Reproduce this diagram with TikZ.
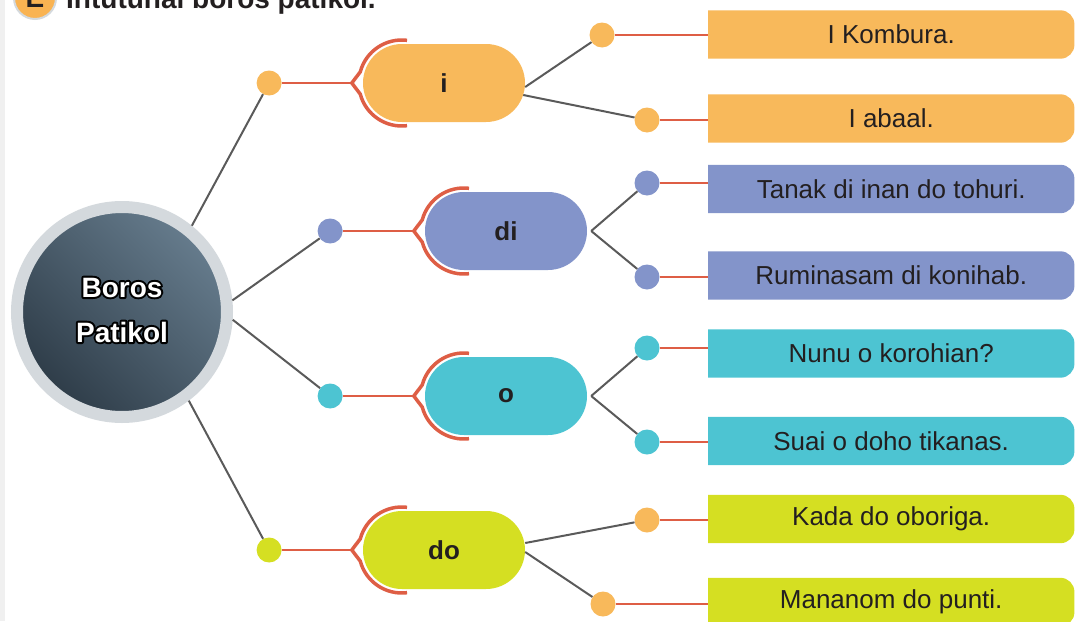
\documentclass[tikz,border=0pt]{standalone}
\usepackage{fontspec}
\setmainfont{Liberation Sans}
\usetikzlibrary{positioning,calc,backgrounds}
\definecolor{ora}{HTML}{F8B95B}
\definecolor{blu}{HTML}{8394CA}
\definecolor{tea}{HTML}{4DC4D2}
\definecolor{lim}{HTML}{D5DF22}
\definecolor{redl}{HTML}{DE5E45}
\definecolor{gry}{HTML}{5A5A5A}
\definecolor{txt}{HTML}{231F20}
\definecolor{ring}{HTML}{D4D9DD}
\definecolor{hubhi}{HTML}{667C8D}
\definecolor{hublo}{HTML}{2E3C48}
\newcommand\pillbracket[1]{%
  \draw[bracket] ($(#1.west)+(39,0)+(277:43)$) arc[start angle=277,end angle=195,radius=43]
    -- ([xshift=-11pt]#1.west) -- ($(#1.west)+(39,0)+(165:43)$) arc[start angle=165,end angle=83,radius=43];}
\newcommand\stroked[1]{\special{pdf:literal direct 1 Tr 4 w 1 j 0 0 0 RG}#1\special{pdf:literal direct 0 Tr}}

\begin{document}
\begin{tikzpicture}[x=1pt,y=-1pt,
  hub/.style={circle,minimum size=210pt,draw=ring,line width=12pt,top color=hubhi,bottom color=hublo,shading angle=-45},
  hubtxt/.style={align=center,text=white,font=\fontsize{28}{45}\selectfont\bfseries},
  pill/.style={rectangle,rounded corners=39pt,minimum width=162pt,minimum height=78pt,text=txt,font=\fontsize{26}{30}\selectfont\bfseries},
  dot/.style={circle,minimum size=25pt,inner sep=0pt},
  box/.style={rectangle,anchor=west,minimum width=366pt,minimum height=48pt,text=txt,font=\fontsize{26}{30}\selectfont},
  link/.style={draw=gry,line width=2pt},
  tie/.style={draw=redl,line width=2.5pt},
  bracket/.style={draw=redl,line width=3.5pt,line join=miter}]
\useasboundingbox (0,0) rectangle (1075,621);
\clip (0,0) rectangle (1075,621);
\fill[black!6] (0,0) rectangle (5,621);

\node[circle,minimum size=42pt,inner sep=0pt,draw=ring,line width=2pt,fill=ora!90!orange,text=txt,font=\fontsize{28}{30}\selectfont\bfseries] (e) at (35,-2) {E};
\node[anchor=base west,inner sep=0pt,text=txt,font=\fontsize{28}{34}\selectfont\bfseries] (t) at (66,9) {Intutunai boros patikol.};

\node[hub] (h) at (122,312) {};
\node[hubtxt] (hs) at ($(h)+(0,-2)$) {\stroked{Boros}\\\stroked{Patikol}};
\node[hubtxt] (ht) at ($(h)+(0,-2)$) {Boros\\Patikol};

\node[pill,fill=ora] (p1) at (444,83) {i};
\node[pill,fill=blu] (p2) at (506,231) {di};
\node[pill,fill=tea] (p3) at (506,396) {o};
\node[pill,fill=lim] (p4) at (444,550) {do};

\node[dot,fill=ora] (l1) [left=81pt of p1] {};
\node[dot,fill=blu] (l2) [left=82pt of p2] {};
\node[dot,fill=tea] (l3) [left=82pt of p3] {};
\node[dot,fill=lim] (l4) [left=81pt of p4] {};

\node[dot,fill=ora] (r11) at (602,35) {};
\node[dot,fill=ora] (r12) at (647,120) {};
\node[dot,fill=blu] (r21) at (647,183) {};
\node[dot,fill=blu] (r22) at (647,277) {};
\node[dot,fill=tea] (r31) at (647,348) {};
\node[dot,fill=tea] (r32) at (647,442) {};
\node[dot,fill=ora] (r41) at (647,520) {};
\node[dot,fill=ora] (r42) at (603,604) {};

\node[box] (b11) at (708,34.5) {I Kombura.};
\node[box] (b12) at (708,118.5) {I abaal.};
\node[box] (b21) at (708,189) {Tanak di inan do tohuri.};
\node[box] (b22) at (708,275.5) {Ruminasam di konihab.};
\node[box] (b31) at (708,353.5) {Nunu o korohian?};
\node[box] (b32) at (708,441) {Suai o doho tikanas.};
\node[box] (b41) at (708,519) {Kada do oboriga.};
\node[box] (b42) at (708,602) {Mananom do punti.};

\begin{scope}[on background layer]
\foreach \n/\c in {11/ora,12/ora,21/blu,22/blu,31/tea,32/tea,41/lim,42/lim}
  \fill[\c] (b\n.south west) [rounded corners=14pt] -- (b\n.south east) -- (b\n.north east) [sharp corners] -- (b\n.north west) -- cycle;
\end{scope}

\path[link] (h.51) edge (l1) (h.6) edge (l2) (h.-4) edge (l3) (h.-53) edge (l4);
\path[link] ([yshift=-4pt]p1.east) edge (r11) ([xshift=-2pt,yshift=-12pt]p1.east) edge (r12)
  ([xshift=4pt]p2.east) edge (r21) ([xshift=4pt]p2.east) edge (r22)
  ([xshift=4pt]p3.east) edge (r31) ([xshift=4pt]p3.east) edge (r32)
  ([yshift=7pt]p4.east) edge (r41) ([yshift=-2pt]p4.east) edge (r42);

\path[tie] (l1) edge ([xshift=-11pt]p1.west) (l2) edge ([xshift=-11pt]p2.west)
  (l3) edge ([xshift=-11pt]p3.west) (l4) edge ([xshift=-11pt]p4.west);
\path[tie] (r11) edge (r11 -| b11.west) (r12) edge (r12 -| b12.west)
  (r21) edge (r21 -| b21.west) (r22) edge (r22 -| b22.west)
  (r31) edge (r31 -| b31.west) (r32) edge (r32 -| b32.west)
  (r41) edge (r41 -| b41.west) (r42) edge (r42 -| b42.west);

\pillbracket{p1}
\pillbracket{p2}
\pillbracket{p3}
\pillbracket{p4}
\end{tikzpicture}
\end{document}
